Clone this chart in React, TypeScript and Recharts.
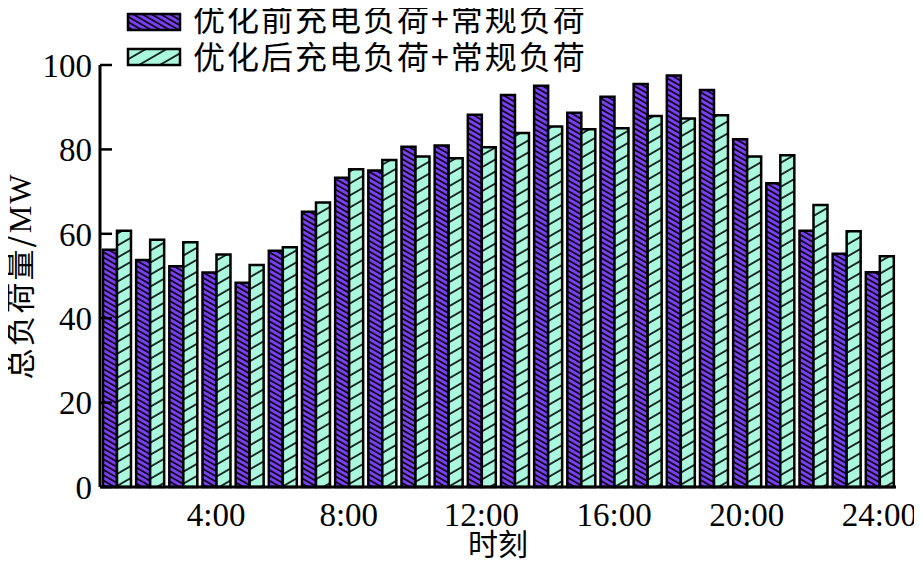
import React from 'react';
import { BarChart, Bar, XAxis, YAxis } from 'recharts';

const hours = [
  '1:00', '2:00', '3:00', '4:00', '5:00', '6:00', '7:00', '8:00',
  '9:00', '10:00', '11:00', '12:00', '13:00', '14:00', '15:00', '16:00',
  '17:00', '18:00', '19:00', '20:00', '21:00', '22:00', '23:00', '24:00'
];

// 优化前充电负荷+常规负荷
const beforeLoad = [
  56.2, 53.8, 52.3, 50.8, 48.4, 56.0, 65.2, 73.3, 75.0, 80.6, 80.9, 88.2,
  92.9, 95.1, 88.7, 92.5, 95.5, 97.5, 94.1, 82.4, 72.0, 60.7, 55.3, 50.9
];

// 优化后充电负荷+常规负荷
const afterLoad = [
  60.7, 58.6, 58.0, 55.1, 52.6, 56.8, 67.4, 75.3, 77.5, 78.3, 77.9, 80.5,
  83.9, 85.4, 84.8, 85.0, 87.9, 87.3, 88.1, 78.3, 78.6, 66.8, 60.6, 54.7
];

const xTicks = ['4:00', '8:00', '12:00', '16:00', '20:00', '24:00'];
const yTicks = [0, 20, 40, 60, 80, 100];
const seriesNames = ['优化前充电负荷+常规负荷', '优化后充电负荷+常规负荷'];

const data = hours.map((h, i) => ({ hour: h, before: beforeLoad[i], after: afterLoad[i] }));

const PURPLE = '#7b3ff4';
const CYAN = '#aaf9df';
const NUM_FONT = '"Liberation Serif", "Times New Roman", serif';
const CJK_FONT = '"Noto Sans CJK SC", sans-serif';

const Patterns = () => (
  <defs>
    <pattern id="hatchBefore" patternUnits="userSpaceOnUse" width="8" height="4.6" patternTransform="rotate(30)">
      <rect width="8" height="4.6" fill={PURPLE} />
      <line x1="0" y1="1" x2="8" y2="1" stroke="#000" strokeWidth="1.6" />
    </pattern>
    <pattern id="hatchAfter" patternUnits="userSpaceOnUse" width="10" height="10.4" patternTransform="rotate(-30)">
      <rect width="10" height="10.4" fill={CYAN} />
      <line x1="0" y1="1" x2="10" y2="1" stroke="#000" strokeWidth="1.6" />
    </pattern>
  </defs>
);

const YLabel = (props: any) => {
  const vb = props.viewBox || {};
  const bx = 31;
  const cy = vb.y + vb.height / 2;
  return (
    <text
      x={bx}
      y={cy}
      transform={`rotate(-90 ${bx} ${cy})`}
      textAnchor="middle"
      fontFamily={CJK_FONT}
      fontSize={31}
      letterSpacing={2}
      fill="#000"
    >
      总负荷量/<tspan fontFamily={NUM_FONT}>MW</tspan>
    </text>
  );
};

const XLabel = (props: any) => {
  const vb = props.viewBox || {};
  return (
    <text
      x={vb.x + vb.width / 2}
      y={555}
      textAnchor="middle"
      fontFamily={CJK_FONT}
      fontSize={30}
      fill="#000"
    >
      时刻
    </text>
  );
};

const LegendOverlay = () => (
  <svg width={922} height={80} style={{ position: 'absolute', left: 0, top: 0 }}>
    <Patterns />
    <rect x={128} y={14} width={52} height={16} fill="url(#hatchBefore)" stroke="#000" strokeWidth={2.5} />
    <rect x={128} y={49} width={52} height={16} fill="url(#hatchAfter)" stroke="#000" strokeWidth={2.5} />
    <text x={193} y={31} fontFamily={CJK_FONT} fontSize={32} letterSpacing={2} fill="#000">
      {seriesNames[0]}
    </text>
    <text x={193} y={69} fontFamily={CJK_FONT} fontSize={32} letterSpacing={2} fill="#000">
      {seriesNames[1]}
    </text>
  </svg>
);

export default function App() {
  return (
    <div style={{ position: 'relative', width: 922, height: 563, marginLeft: -8, marginTop: -8, background: '#fff' }}>
      <BarChart
        width={922}
        height={563}
        data={data}
        margin={{ top: 65, right: 26, left: 0, bottom: 0 }}
        barCategoryGap="9%"
        barGap={0}
      >
        <Patterns />
        <XAxis
          dataKey="hour"
          height={76}
          interval={0}
          tickLine={false}
          tickMargin={10}
          tickFormatter={(v: string) => (xTicks.includes(v) ? v : '')}
          axisLine={{ stroke: '#000', strokeWidth: 3 }}
          tick={{ fill: '#000', fontFamily: NUM_FONT, fontSize: 33 }}
          label={<XLabel />}
        />
        <YAxis
          width={100}
          domain={[0, 100]}
          ticks={yTicks}
          interval={0}
          tickSize={-12}
          tickMargin={20}
          axisLine={{ stroke: '#000', strokeWidth: 3 }}
          tickLine={{ stroke: '#000', strokeWidth: 2.5 }}
          tick={{ fill: '#000', fontFamily: NUM_FONT, fontSize: 33 }}
          label={<YLabel />}
        />
        <Bar
          dataKey="before"
          name={seriesNames[0]}
          fill="url(#hatchBefore)"
          stroke="#000"
          strokeWidth={2.5}
          isAnimationActive={false}
        />
        <Bar
          dataKey="after"
          name={seriesNames[1]}
          fill="url(#hatchAfter)"
          stroke="#000"
          strokeWidth={2.5}
          isAnimationActive={false}
        />
      </BarChart>
      <LegendOverlay />
    </div>
  );
}
